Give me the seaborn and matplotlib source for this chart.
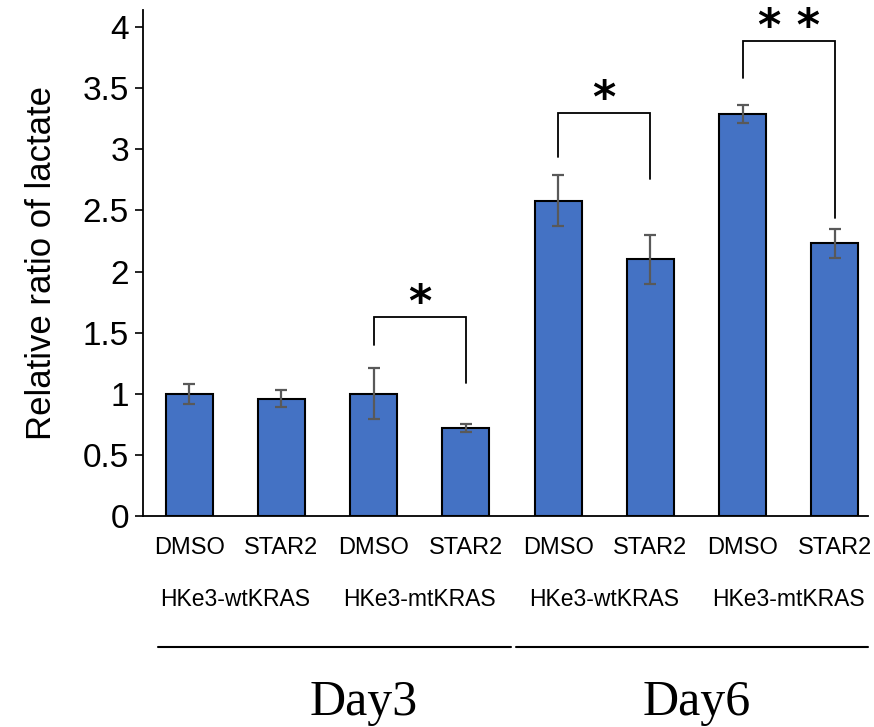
import numpy as np
import pandas as pd
import matplotlib
matplotlib.use("Agg")
import matplotlib.pyplot as plt
import matplotlib.transforms as mtransforms
import seaborn as sns

# values
treatments = ["DMSO", "STAR2", "DMSO", "STAR2", "DMSO", "STAR2", "DMSO", "STAR2"]
cell_lines = ["HKe3-wtKRAS", "HKe3-mtKRAS", "HKe3-wtKRAS", "HKe3-mtKRAS"]
days = ["Day3", "Day6"]
means = [1.00, 0.96, 1.00, 0.72, 2.58, 2.10, 3.29, 2.23]
errors = [0.08, 0.07, 0.21, 0.03, 0.21, 0.20, 0.075, 0.12]

# significance brackets: (left bar, right bar, top y, left end y, right end y, label)
brackets = [
    (2, 3, 1.63, 1.40, 1.09, "*"),
    (4, 5, 3.30, 2.94, 2.76, "*"),
    (6, 7, 3.89, 3.58, 2.44, "* *"),
]

bar_color = "#4472C4"
err_color = "#595959"

sns.set_theme(style="white")
plt.rcParams["font.family"] = ["Liberation Sans", "DejaVu Sans"]
plt.rcParams.update({"text.color": "black", "axes.labelcolor": "black",
                     "xtick.color": "black", "ytick.color": "black"})

df = pd.DataFrame({
    "bar": [f"b{i}" for i in range(len(means))],
    "value": means,
})

fig = plt.figure(figsize=(8.74, 7.27), dpi=100)
ax = fig.add_axes([143 / 874, 1 - 516 / 727, (868 - 143) / 874, (516 - 10) / 727])

sns.barplot(data=df, x="bar", y="value", color=bar_color, saturation=1,
            width=0.51, edgecolor="black", linewidth=1.5, errorbar=None, ax=ax)
xs = np.arange(len(means))
ax.errorbar(xs, means, yerr=errors, fmt="none", ecolor=err_color,
            elinewidth=1.6, capsize=4.5, capthick=1.6, zorder=5)

ax.set_xlim(-0.5, 7.36)
ax.set_ylim(0, 4.14)
ax.set_yticks(np.arange(0, 4.01, 0.5))
ax.set_yticklabels(["0", "0.5", "1", "1.5", "2", "2.5", "3", "3.5", "4"])
ax.tick_params(axis="y", labelsize=24, length=6, width=1.2, direction="out",
               left=True, pad=4)
ax.tick_params(axis="x", length=0)
ax.set_xticks(xs)
ax.set_xticklabels([])
ax.set_xlabel("")
ax.set_ylabel("Relative ratio of lactate", fontsize=25, labelpad=18)

for side in ["top", "right"]:
    ax.spines[side].set_visible(False)
for side in ["left", "bottom"]:
    ax.spines[side].set_color("black")
    ax.spines[side].set_linewidth(1.3)

# brackets with stars
for i, j, top, yl, yr, lab in brackets:
    ax.plot([i, i, j, j], [yl, top, top, yr], color="black", lw=1.3,
            solid_joinstyle="miter", clip_on=False)
    ax.text((i + j) / 2, top + 0.11, lab, ha="center", va="center",
            fontsize=32, fontweight="heavy", family="DejaVu Sans")

# labels under the axis
trans = mtransforms.blended_transform_factory(ax.transData, ax.transAxes)
for x, t in zip(xs, treatments):
    ax.text(x, -0.063, t, transform=trans, ha="center", va="center", fontsize=17)
for k, name in enumerate(cell_lines):
    ax.text(2 * k + 0.5, -0.166, name, transform=trans, ha="center", va="center",
            fontsize=16.5)

# day grouping lines and labels (figure pixel fractions)
fig.add_artist(plt.Line2D([158 / 874, 511 / 874], [1 - 647 / 727] * 2,
                          color="black", lw=1.5))
fig.add_artist(plt.Line2D([516 / 874, 868 / 874], [1 - 647 / 727] * 2,
                          color="black", lw=1.5))
for cx, d in zip([364, 697], days):
    fig.text(cx / 874, 1 - 703 / 727, d, ha="center", va="center", fontsize=36,
             family=["Liberation Serif", "DejaVu Serif"])

fig.savefig("out.png", dpi=100)
